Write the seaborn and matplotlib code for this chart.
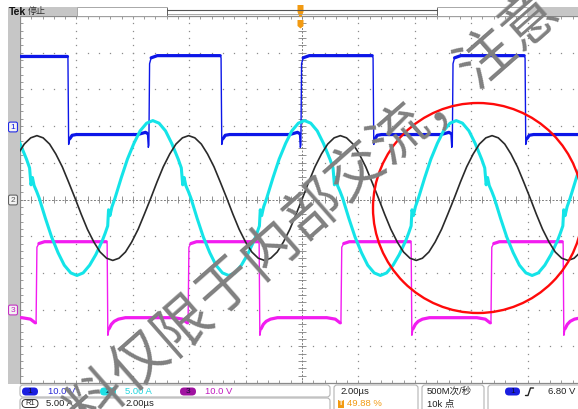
import numpy as np
import pandas as pd
import matplotlib
matplotlib.use("Agg")
import matplotlib.pyplot as plt
import seaborn as sns
from matplotlib.patches import Rectangle, FancyBboxPatch, Circle, Polygon

sns.set_theme(style="white")
plt.rcParams['font.family'] = ['Liberation Sans', 'Noto Sans CJK SC', 'DejaVu Sans']

# ---------------- acquisition: time in µs, amplitude in screen divisions ----------------
PERIOD_US = 5.38

# CH1 (blue, 10 V/div) switching node: edge times and edge shapes
ch1_rise_us = [4.57, 9.96, 15.33]
ch1_fall_us = [1.70, 7.13, 12.52, 17.91]
ch1_start_level = 3.92
ch1_rise_dt = [-0.40, -0.12, -0.05, -0.02, 0.0, 0.025, 0.08, 0.30]
ch1_rise_v = [1.77, 1.83, 1.80, 1.42, 1.48, 3.70, 3.86, 3.92]
ch1_fall_dt = [-0.03, 0.0, 0.025, 0.07, 0.15, 0.30]
ch1_fall_v = [3.92, 3.86, 1.50, 1.66, 1.75, 1.77]

# CH3 (magenta, 10 V/div) gate drive
ch3_rise_us = [0.57, 5.96, 11.38, 16.70]
ch3_fall_us = [3.09, 8.48, 13.87, 19.26]
ch3_start_level = -3.23
ch3_rise_dt = [-0.50, -0.20, -0.03, 0.0, 0.03, 0.10, 0.30]
ch3_rise_v = [-3.22, -3.26, -3.36, -3.38, -1.30, -1.20, -1.15]
ch3_fall_dt = [-0.03, 0.0, 0.025, 0.07, 0.15, 0.25, 0.40, 0.65]
ch3_fall_v = [-1.15, -1.20, -3.70, -3.52, -3.40, -3.32, -3.26, -3.22]

# CH2 (cyan, 5 A/div) resonant current, one period starting at a trough
ch2_trough_us = 2.02
ch2_dt = [0.00, 0.22, 0.45, 0.67, 0.90, 1.00, 1.09, 1.12, 1.17, 1.24,
          1.35, 1.57, 1.79, 2.02, 2.24, 2.47, 2.69, 2.91, 3.14, 3.36,
          3.59, 3.70, 3.75, 3.80, 3.86, 3.95, 4.04, 4.26, 4.48, 4.71,
          4.93, 5.16]
ch2_v = [-2.07, -2.00, -1.79, -1.50, -1.12, -0.92, -0.72, -0.28, -0.44, -0.20,
         0.04, 0.59, 1.10, 1.53, 1.87, 2.08, 2.15, 2.08, 1.87, 1.53,
         1.10, 0.86, 0.40, 0.60, 0.38, 0.22, 0.04, -0.51, -1.02, -1.45,
         -1.79, -2.00]

# Reference waveform (black), one period starting at a crest
ref_peak_us = 0.60
ref_dt = [0.00, 0.22, 0.45, 0.67, 0.90, 1.12, 1.35, 1.57, 1.79, 2.02, 2.24, 2.47,
          2.69, 2.91, 3.14, 3.36, 3.59, 3.81, 4.04, 4.26, 4.48, 4.71, 4.93, 5.16]
ref_v = [1.74, 1.68, 1.51, 1.24, 0.89, 0.48, 0.04, -0.40, -0.81, -1.16, -1.43, -1.60,
         -1.66, -1.60, -1.43, -1.16, -0.81, -0.40, 0.04, 0.48, 0.89, 1.24, 1.51, 1.68]

# readout texts
ch_scale = ["10.0 V", "5.00 A", "10.0 V"]
math_scale = ["5.00 A", "2.00µs"]
timebase = "2.00µs"
trig_pos = "49.88 %"
sample_rate = ["500M次/秒", "10k 点"]
trig_level = "6.80 V"
watermark = "料仅限于内部交流，注意"

COL_BLUE = '#0c16e8'
COL_CYAN = '#14e4e8'
COL_MAG = '#f21cf0'
COL_REF = '#2a2a2a'
COL_ORANGE = '#f29a12'


def square_trace(start_level, rises, falls, rise_dt, rise_v, fall_dt, fall_v):
    events = [(t, rise_dt, rise_v) for t in rises] + [(t, fall_dt, fall_v) for t in falls]
    rows = [(-0.5, start_level, False)]
    for t0, dts, vals in sorted(events, key=lambda e: e[0]):
        for d, v in zip(dts, vals):
            rows.append((t0 + d, v, -0.025 <= d <= 0.03))
    rows.append((21.0, rows[-1][1], False))
    t, v, edge = map(np.array, zip(*rows))
    return pd.DataFrame(dict(t=t, v=v, edge=edge, seg=np.cumsum(edge)))


def periodic_trace(t_ref, dts, vals, cycles=range(-1, 4)):
    t = np.concatenate([t_ref + k * PERIOD_US + np.asarray(dts) for k in cycles])
    v = np.tile(np.asarray(vals), len(cycles))
    return pd.DataFrame(dict(t=t, v=v))


fig = plt.figure(figsize=(5.78, 4.09), dpi=100)
fig.patch.set_facecolor('white')
ax = fig.add_axes([20 / 578, 26 / 409, 558 / 578, 367 / 409])
ax.set_facecolor('white')
X_END = 558 / 28.2

# ---------------- graticule ----------------
dot_kw = dict(linestyle='none', marker='s', ms=0.9, mew=0, color='#8c8c8c', zorder=1)
for gx in np.arange(2, 19, 2):
    if gx != 10:
        ys = np.arange(-5, 5.01, 0.2)
        ax.plot(np.full_like(ys, gx), ys, **dot_kw)
for gy in range(-4, 5):
    if gy != 0:
        xs = np.arange(0, X_END, 0.4)
        ax.plot(xs, np.full_like(xs, gy), **dot_kw)
ax.axhline(0, color='#808080', lw=0.7, ls=(0, (2, 1.6)), zorder=1)
ax.axvline(10, color='#808080', lw=0.7, ls=(0, (2, 1.6)), zorder=1)
ax.vlines(np.arange(0, X_END, 0.4), -0.09, 0.09, color='#808080', lw=0.6, zorder=1)
ax.hlines(np.arange(-5, 5.01, 0.2), 9.86, 10.14, color='#808080', lw=0.6, zorder=1)

# ---------------- traces ----------------
ch1 = square_trace(ch1_start_level, ch1_rise_us, ch1_fall_us,
                   ch1_rise_dt, ch1_rise_v, ch1_fall_dt, ch1_fall_v)
ch3 = square_trace(ch3_start_level, ch3_rise_us, ch3_fall_us,
                   ch3_rise_dt, ch3_rise_v, ch3_fall_dt, ch3_fall_v)
ch2 = periodic_trace(ch2_trough_us, ch2_dt, ch2_v)
ref = periodic_trace(ref_peak_us, ref_dt, ref_v)

for df, col, z in [(ch1, COL_BLUE, 3), (ch3, COL_MAG, 4)]:
    sns.lineplot(data=df, x='t', y='v', color=col, lw=1.0, estimator=None,
                 sort=False, ax=ax, zorder=z)
    sns.lineplot(data=df[~df.edge], x='t', y='v', units='seg', color=col, lw=2.3,
                 estimator=None, sort=False, ax=ax, zorder=z)
sns.lineplot(data=ch2, x='t', y='v', color=COL_CYAN, lw=2.2, estimator=None,
             sort=False, ax=ax, zorder=5)
sns.lineplot(data=ref, x='t', y='v', color=COL_REF, lw=1.2, estimator=None,
             sort=False, ax=ax, zorder=6)

ax.set_xlim(0, X_END)
ax.set_ylim(-5, 5)
ax.set_xlabel('')
ax.set_ylabel('')
for s in ['left', 'top', 'bottom']:
    ax.spines[s].set_color('#8a8a8a')
    ax.spines[s].set_linewidth(0.9)
ax.spines['right'].set_visible(False)
ax.set_xticks(np.arange(0, X_END, 0.4))
ax.set_yticks(np.arange(-5, 5.01, 0.2))
ax.tick_params(axis='x', direction='in', length=2.3, width=0.6, color='#8a8a8a',
               top=True, bottom=True, labelbottom=False, labeltop=False)
ax.tick_params(axis='y', direction='in', length=2.3, width=0.6, color='#8a8a8a',
               left=True, right=False, labelleft=False)

# ---------------- screen frame, readouts, annotations ----------------
ov = fig.add_axes([0, 0, 1, 1], zorder=10)
ov.set_xlim(0, 578)
ov.set_ylim(409, 0)
ov.axis('off')
ov.patch.set_alpha(0)

GRAY = '#c6c6c6'
ov.add_patch(Rectangle((8, 7), 12, 377, fc=GRAY, ec='none'))
ov.add_patch(Rectangle((8, 7), 69, 9, fc=GRAY, ec='none'))
ov.add_patch(Rectangle((77, 7), 90, 9, fc='white', ec='#9a9a9a', lw=0.6))
ov.add_patch(Rectangle((437, 7), 90, 9, fc='white', ec='#9a9a9a', lw=0.6))
ov.add_patch(Rectangle((527, 7), 51, 9, fc=GRAY, ec='none'))
ov.plot([167, 437], [9.8, 9.8], color='#555555', lw=0.8)
ov.plot([167, 437], [14.2, 14.2], color='#9a9a9a', lw=0.6)
ov.plot([167, 167], [8, 15], color='#555555', lw=0.6)
ov.plot([437, 437], [8, 15], color='#555555', lw=0.6)
ov.text(9, 11.8, 'Tek', fontsize=7.5, weight='bold', color='#111111', va='center', ha='left')
ov.text(28, 11.8, '停止', fontsize=6.5, color='#333333', va='center', ha='left',
        family=['Noto Sans CJK SC', 'DejaVu Sans'])

# trigger position markers
ov.add_patch(Polygon([(297.5, 5), (303.5, 5), (303.5, 12), (301.5, 17), (299.5, 17), (297.5, 12)],
                     closed=True, fc=COL_ORANGE, ec='none'))
ov.add_patch(Polygon([(297.5, 20), (303.5, 20), (303.5, 26), (300.5, 28.5), (297.5, 26)],
                     closed=True, fc=COL_ORANGE, ec='none'))

# channel ground markers on the left strip
for label, ypx, col in [('1', 127, COL_BLUE), ('2', 200, '#555555'), ('3', 310, '#c21cc0')]:
    ov.add_patch(FancyBboxPatch((9, ypx - 4.5), 8, 9, boxstyle='round,pad=0.4,rounding_size=1.5',
                                fc='#f4f4f4', ec=col, lw=0.7))
    ov.text(13, ypx + 0.3, label, fontsize=6, color=col, ha='center', va='center')

# bottom readout boxes
box_kw = dict(boxstyle='round,pad=0,rounding_size=3', fc='white', ec='#b4b4b4', lw=0.8)
ov.add_patch(FancyBboxPatch((20, 385), 310, 12, **box_kw))
ov.add_patch(FancyBboxPatch((20, 398), 310, 14, **box_kw))
ov.add_patch(FancyBboxPatch((334, 385), 84, 27, **box_kw))
ov.add_patch(FancyBboxPatch((422, 385), 62, 27, **box_kw))
ov.add_patch(FancyBboxPatch((488, 385), 95, 27, **box_kw))

txt_kw = dict(fontsize=6.8, va='center', ha='left')
pill_kw = dict(boxstyle='round,pad=0,rounding_size=4', ec='none')
for (x0, fc, num), (tx, scale, tc) in zip(
        [(22, '#1a1ee0', '1'), (100, '#1ee0e4', '2'), (180, '#a012a0', '3')],
        [(48, ch_scale[0], '#2a2ad6'), (125, ch_scale[1], '#22d6de'), (205, ch_scale[2], '#c21cc0')]):
    ov.add_patch(FancyBboxPatch((x0, 387.5), 16, 8, fc=fc, **pill_kw))
    ov.text(x0 + 8, 391.6, num, fontsize=6, color='#101030', ha='center', va='center')
    ov.text(tx, 391.6, scale, color=tc, **txt_kw)

ov.add_patch(FancyBboxPatch((22, 399.5), 16, 8, boxstyle='round,pad=0,rounding_size=4',
                            fc='white', ec='#333333', lw=0.7))
ov.text(30, 403.6, 'R1', fontsize=5.5, color='#222222', ha='center', va='center')
ov.text(46, 403.6, math_scale[0], color='#222222', **txt_kw)
ov.text(125, 403.6, math_scale[1], color='#222222', **txt_kw)

ov.text(340, 391.6, timebase, color='#222222', **txt_kw)
ov.add_patch(Rectangle((338, 399.5), 6, 8, fc=COL_ORANGE, ec='none'))
ov.text(341, 403.6, 'T', fontsize=5, color='white', ha='center', va='center', weight='bold')
ov.text(347, 403.6, trig_pos, color=COL_ORANGE, **txt_kw)

ov.text(427, 391.6, sample_rate[0], color='#222222', **txt_kw)
ov.text(427, 403.6, sample_rate[1], color='#222222', **txt_kw)

ov.add_patch(FancyBboxPatch((505, 387.5), 15, 8, fc='#1a1ee0', **pill_kw))
ov.text(512.5, 391.6, '1', fontsize=6, color='#101030', ha='center', va='center')
ov.plot([525.5, 528, 530.5, 533.5], [395.5, 395.5, 388, 388], color='#222222', lw=1.0)
ov.text(548, 391.6, trig_level, color='#222222', **txt_kw)

# highlighted region
ov.add_patch(Circle((478, 208), 105, fill=False, ec='#ff0a0a', lw=1.7))

# diagonal watermark
step = np.array([43.3, -38.0])
origin = np.array([140.0, 362.0])
for i, ch in enumerate(watermark):
    cx, cy = origin + (i - 1) * step
    ov.text(cx, cy, ch, fontsize=41, color='#808080', rotation=41.3, rotation_mode='anchor',
            ha='center', va='center', family=['Noto Sans CJK SC', 'DejaVu Sans'])

fig.savefig('out.png', dpi=100, facecolor='white')
